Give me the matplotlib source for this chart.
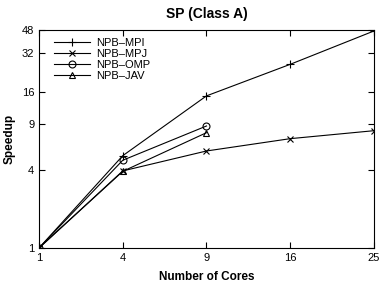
import matplotlib
matplotlib.use("Agg")
import matplotlib.pyplot as plt

plt.rcParams['font.family'] = ['Liberation Sans', 'DejaVu Sans']

cores = ["1", "4", "9", "16", "25"]
mpi = [1, 5.15, 14.9, 26.1, 47.2]
mpj = [1, 3.93, 5.6, 6.97, 8.03]
omp = [1, 4.75, 8.73]
jav = [1, 3.9, 7.75]
yticks = [1, 4, 9, 16, 32, 48]

fig = plt.figure(figsize=(3.83, 2.82), dpi=100)
ax = fig.add_axes([0.1018, 0.1206, 0.8747, 0.773])

x = list(range(len(cores)))
ax.plot(x, mpi, color='black', lw=0.8, marker='+', ms=6, mew=0.8, label='NPB\u2013MPI')
ax.plot(x, mpj, color='black', lw=0.8, marker='x', ms=5, mew=0.8, label='NPB\u2013MPJ')
ax.plot(x[:len(omp)], omp, color='black', lw=0.8, marker='o', ms=5, mew=0.8,
        mfc='none', label='NPB\u2013OMP')
ax.plot(x[:len(jav)], jav, color='black', lw=0.8, marker='^', ms=5, mew=0.8,
        mfc='none', label='NPB\u2013JAV')

ax.set_yscale('log')
ax.set_ylim(1, 48)
ax.set_yticks(yticks)
ax.set_yticklabels([str(t) for t in yticks])
ax.minorticks_off()
ax.set_xlim(0, len(cores) - 1)
ax.set_xticks(x)
ax.set_xticklabels(cores)
ax.tick_params(direction='in', top=True, right=True, labelsize=8, length=4, width=0.8)
for s in ax.spines.values():
    s.set_linewidth(0.8)

ax.set_title('SP (Class A)', fontsize=10, fontweight='bold', pad=9)
ax.set_xlabel('Number of Cores', fontsize=8.5, fontweight='bold', labelpad=6)
ax.set_ylabel('Speedup', fontsize=8.5, fontweight='bold', labelpad=4)

ax.legend(loc='upper left', frameon=False, fontsize=8, handlelength=3.3,
          labelspacing=0.1, borderaxespad=0.1, handletextpad=0.5,
          bbox_to_anchor=(0.027, 0.99))

fig.savefig('out.png', dpi=100)
